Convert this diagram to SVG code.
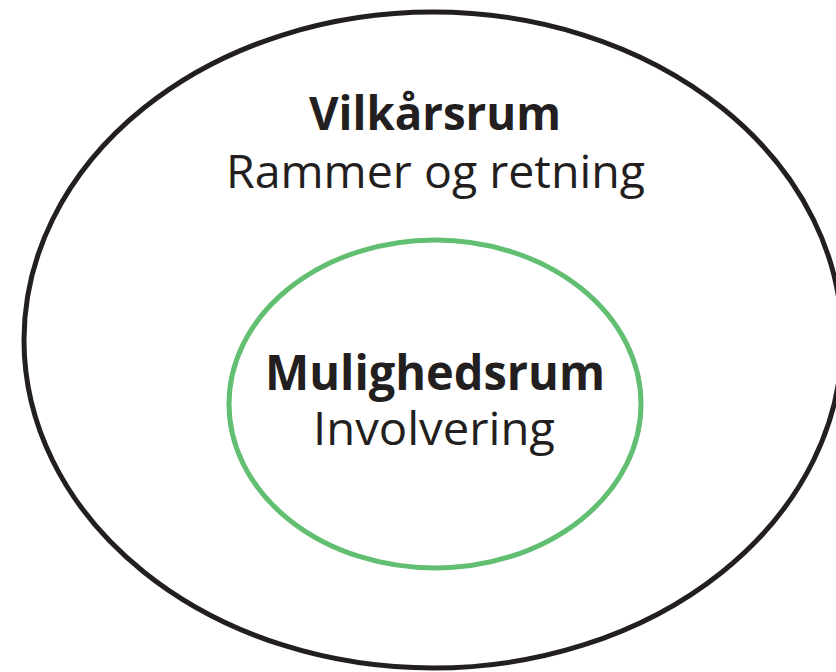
<svg xmlns="http://www.w3.org/2000/svg" width="836" height="672" viewBox="0 0 836 672">
  <style>
    .ring { fill: none; }
    .outer { stroke: #231f20; stroke-width: 5; }
    .inner { stroke: #62bf72; stroke-width: 5; }
    .title { font-family: "Open Sans", "Noto Sans", sans-serif; font-weight: 700; fill: #231f20; text-anchor: middle; }
    .sub { font-family: "Open Sans", "Noto Sans", sans-serif; font-weight: 400; fill: #231f20; text-anchor: middle; }
  </style>
  <rect width="836" height="672" fill="#ffffff"/>
  <g id="vilkaarsrum">
    <ellipse class="ring outer" cx="433" cy="340" rx="409" ry="328"/>
    <text class="title" x="435" y="130" font-size="46" textLength="252" lengthAdjust="spacingAndGlyphs">Vilkårsrum</text>
    <text class="sub" x="435.5" y="188" font-size="46" textLength="419" lengthAdjust="spacingAndGlyphs">Rammer og retning</text>
  </g>
  <g id="mulighedsrum">
    <ellipse class="ring inner" cx="435" cy="404" rx="206" ry="164"/>
    <text class="title" x="435" y="390" font-size="49" textLength="340" lengthAdjust="spacingAndGlyphs">Mulighedsrum</text>
    <text class="sub" x="434" y="445" font-size="46" textLength="242" lengthAdjust="spacingAndGlyphs">Involvering</text>
  </g>
</svg>
